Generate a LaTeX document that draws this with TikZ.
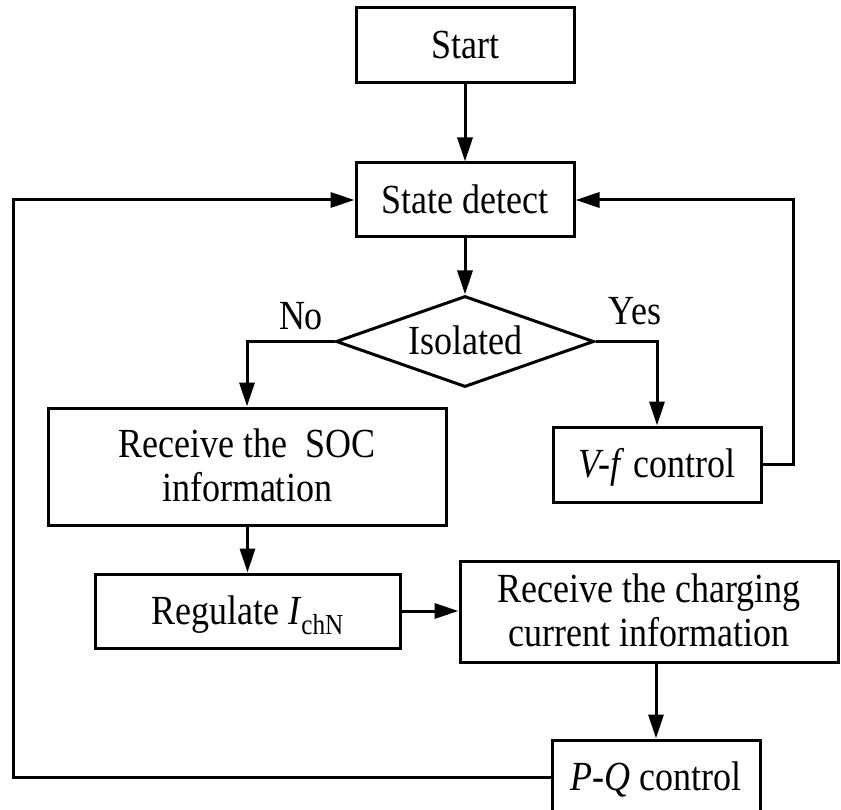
\documentclass[tikz,border=0pt]{standalone}
\usepackage{fontspec}
\usepackage{graphicx}
\setmainfont{Liberation Serif}
\usetikzlibrary{arrows.meta,shapes.geometric}
\newcommand{\tx}[1]{\raisebox{-4.5pt}[\height][\depth]{\scalebox{1}[1.15]{\begin{tabular}{@{}c@{}}#1\end{tabular}}}}
\begin{document}
\begin{tikzpicture}[x=1pt,y=-1pt,
  every node/.style={font=\fontsize{36}{38}\selectfont},
  box/.style={draw,line width=3pt,inner sep=0pt,align=center},
  dia/.style={draw,line width=3pt,shape=diamond,aspect=2.83,inner sep=0pt,minimum width=258pt,minimum height=91pt},
  conn/.style={line width=3pt,-{Triangle[length=24pt,width=15pt]}},
  lbl/.style={inner sep=0pt}]
\useasboundingbox (0,0) rectangle (841,810);
\fill[white] (0,0) rectangle (841,810);
\node[box,minimum width=218pt,minimum height=75pt] (start) at (465,45.5) {\tx{Start}};
\node[box,minimum width=218pt,minimum height=74pt] (detect) at (465,200) {\tx{State detect}};
\node[dia] (iso) at (465,341.5) {\tx{Isolated}};
\node[box,minimum width=398pt,minimum height=117pt] (soc) at (247,466.5) {\tx{Receive the\ \ SOC\\information}};
\node[box,minimum width=208pt,minimum height=75pt] (vf) at (657,464.5) {\tx{\textit{V-f} control}};
\node[box,minimum width=305pt,minimum height=74pt] (reg) at (247.5,611) {\tx{Regulate \textit{I}\textsubscript{chN}}};
\node[box,minimum width=378pt,minimum height=101pt] (chg) at (649,611.5) {\tx{Receive the charging\\current information}};
\node[box,minimum width=208pt,minimum height=74pt] (pq) at (656,777) {\tx{\textit{P-Q} control}};
\node[lbl] (no) at (301,316) {\tx{No}};
\node[lbl] (yes) at (635,311) {\tx{Yes}};
\coordinate (lx) at (13,0);
\coordinate (rx) at (793,0);
\draw[conn] (start) -- (detect);
\draw[conn] (detect) -- (iso);
\draw[conn] (iso.west) -| (soc.north);
\draw[conn] (iso.east) -| (vf.north);
\draw[conn] (vf.east) -- (rx |- vf.east) -- (rx |- detect.east) -- (detect.east);
\draw[conn] (soc.south -| reg.north) -- (reg.north);
\draw[conn] (reg.east) -- (chg.west |- reg.east);
\draw[conn] (pq.north |- chg.south) -- (pq.north);
\draw[conn] (pq.west) -- (lx |- pq.west) -- (lx |- detect.west) -- (detect.west);
\end{tikzpicture}
\end{document}
